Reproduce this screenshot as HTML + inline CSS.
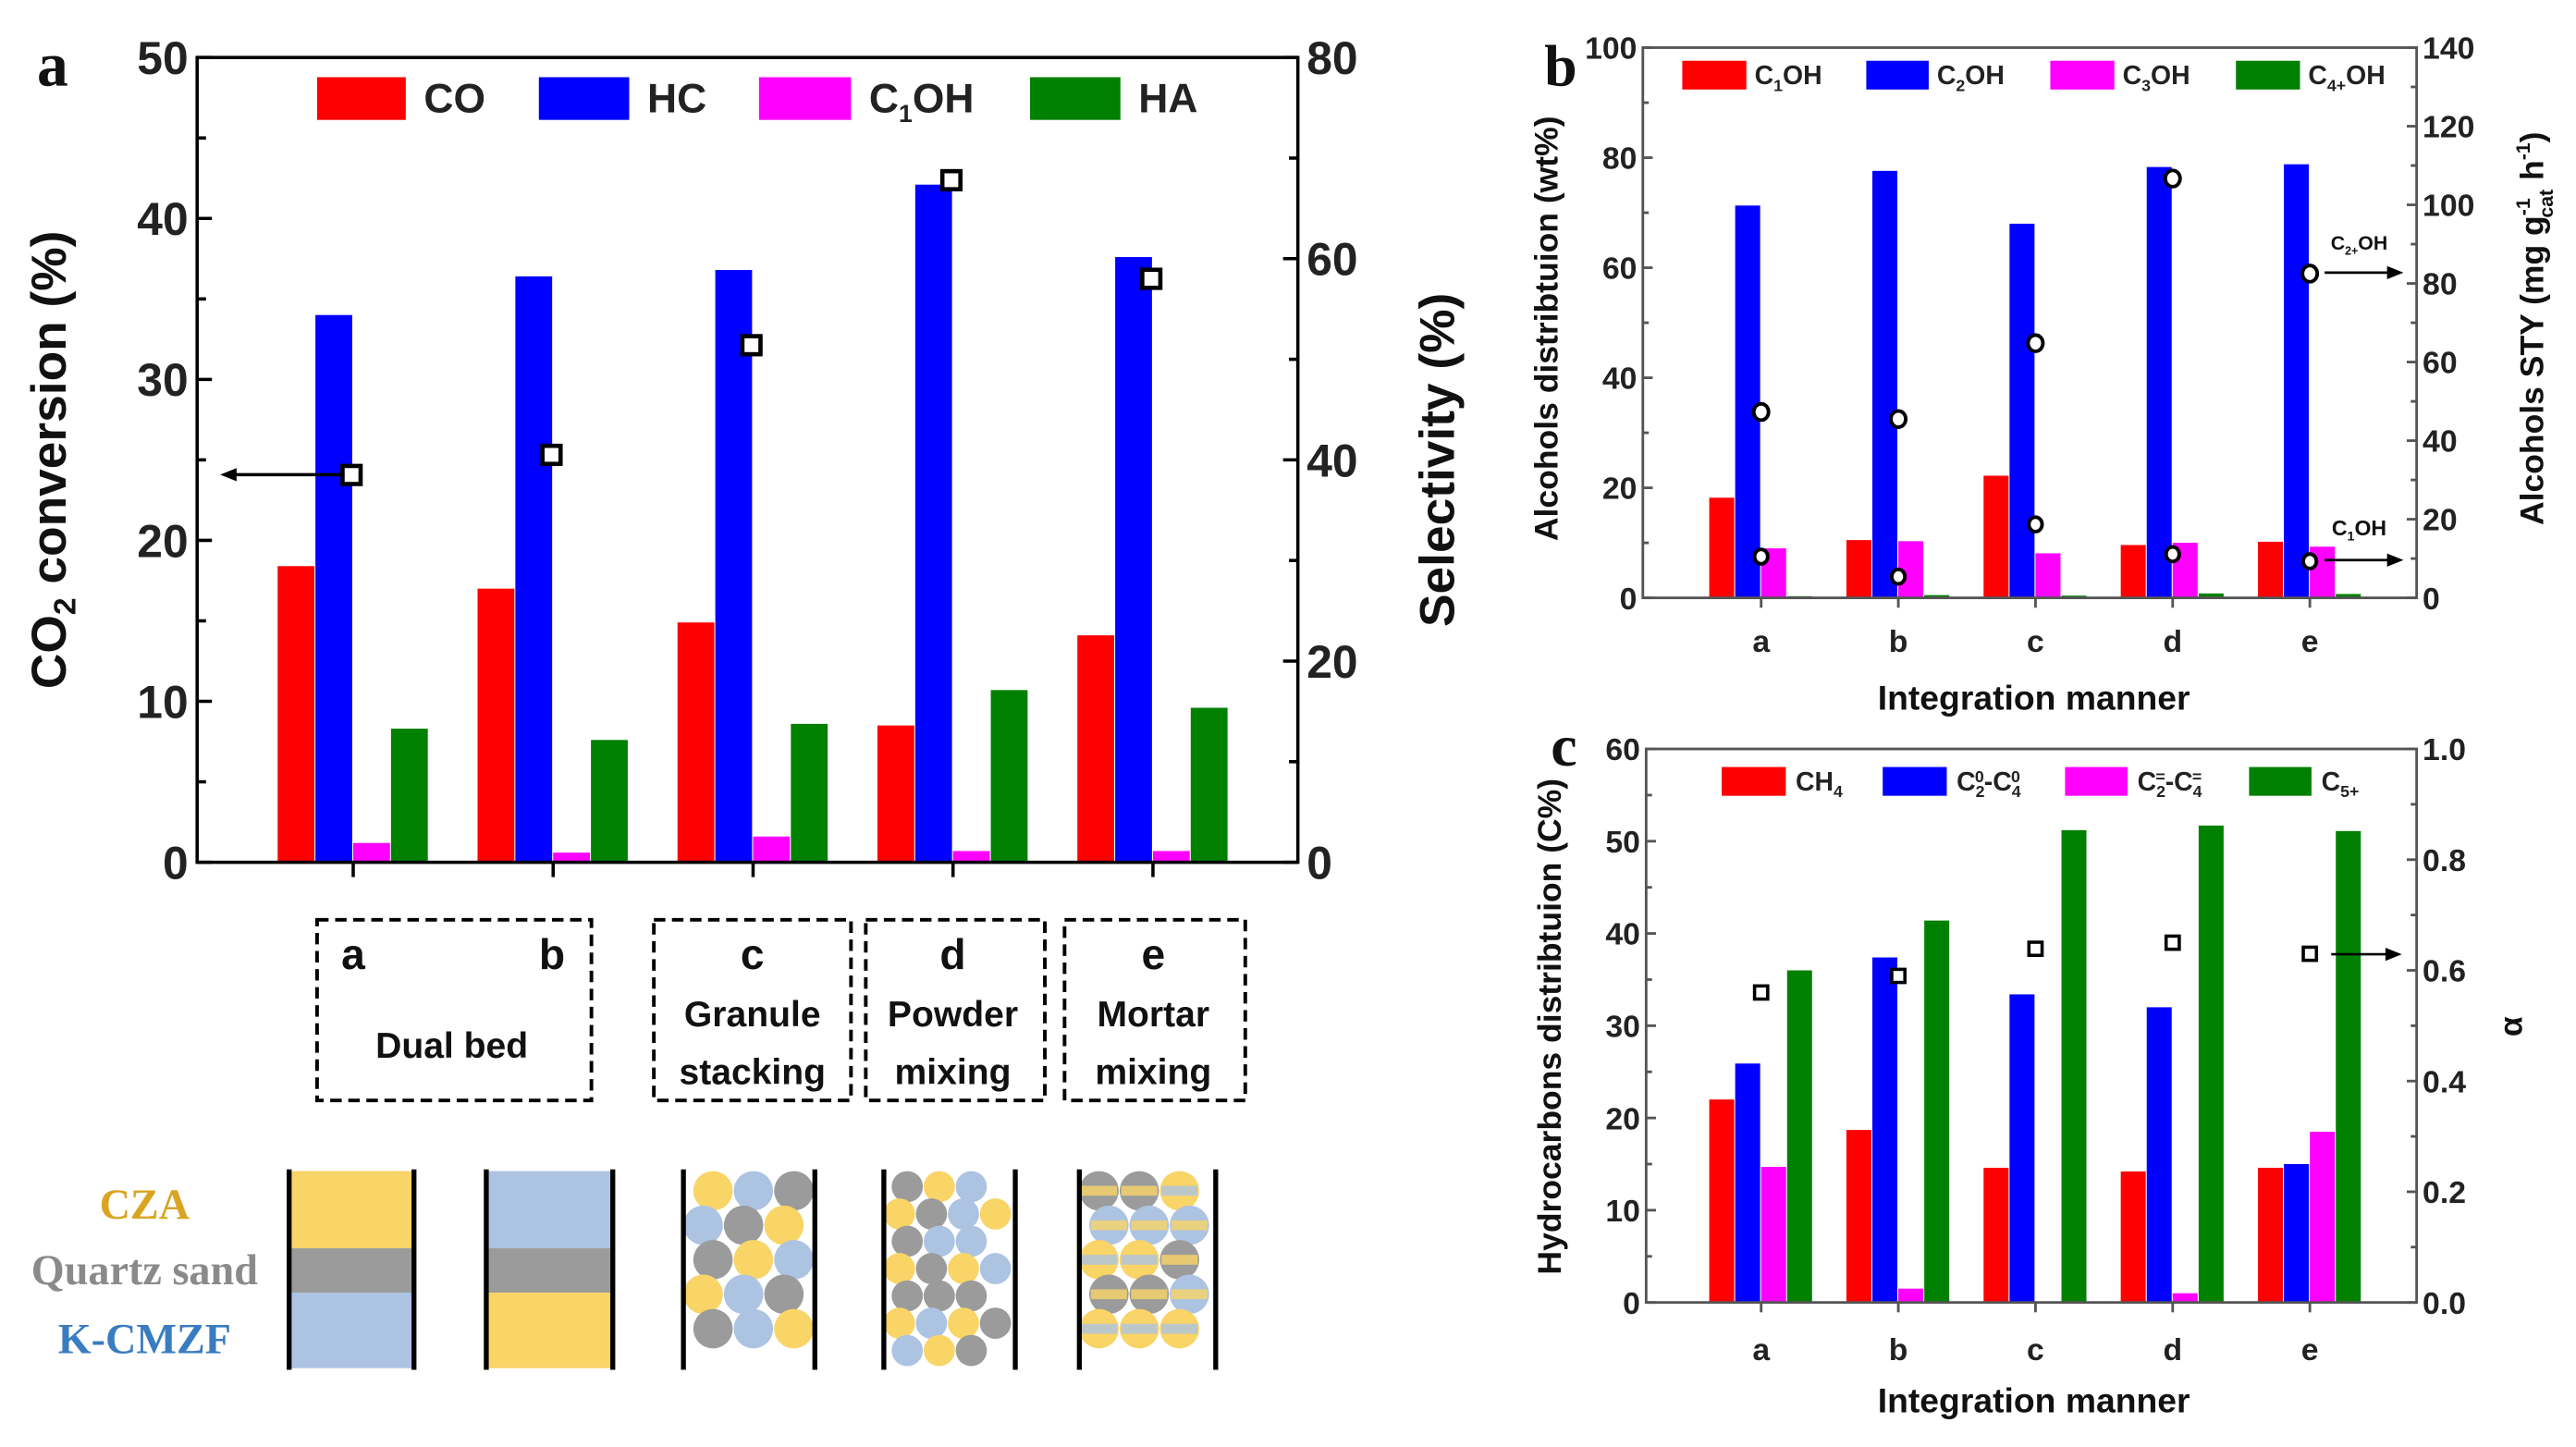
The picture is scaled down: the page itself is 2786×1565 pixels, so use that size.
<!DOCTYPE html>
<html><head><meta charset="utf-8"><style>
html,body{margin:0;padding:0;background:#fff;}
svg{display:block;}
text{font-family:"Liberation Sans",sans-serif;}
.n{font-family:"Liberation Sans Narrow","Liberation Sans",sans-serif;font-weight:bold;}
.t{font-weight:bold;}
.s{font-family:"Liberation Serif",serif;font-weight:bold;}
</style></head><body>
<svg id="fig" width="2786" height="1565" viewBox="0 0 1568 881" preserveAspectRatio="none" xmlns="http://www.w3.org/2000/svg">
<g id="pa"></g>
<g id="pb"></g>
<g id="pc"></g>
<g id="ill"></g>
</svg>
<script>
// ---- data ----
const catsA = ['a','b','c','d','e'];
const aCO = [18.4,17.0,14.9,8.5,14.1];
const aHC = [34.0,36.4,36.8,42.1,37.6];
const aC1OH = [1.2,0.6,1.6,0.7,0.7];
const aHA = [8.3,7.6,8.6,10.7,9.6];
const aConv = [38.5,40.5,51.4,67.8,58.0];
const aLeftTicks = [0,10,20,30,40,50];
const aRightTicks = [0,20,40,60,80];

const bC1 = [18.2,10.5,22.2,9.6,10.2];
const bC2 = [71.3,77.6,68.0,78.3,78.8];
const bC3 = [9.0,10.3,8.1,10.0,9.3];
const bC4 = [0.3,0.5,0.4,0.8,0.7];
const bSTYc2 = [47.3,45.5,64.8,106.7,82.5];
const bSTYc1 = [10.5,5.4,18.7,11.1,9.3];
const bLeftTicks = [0,20,40,60,80,100];
const bRightTicks = [0,20,40,60,80,100,120,140];

const cCH4 = [22.0,18.7,14.6,14.2,14.6];
const cPar = [25.9,37.4,33.4,32.0,15.0];
const cOle = [14.7,1.5,0,1.0,18.5];
const cC5 = [36.0,41.4,51.2,51.7,51.1];
const cAlpha = [0.56,0.59,0.639,0.65,0.63];
const cLeftTicks = [0,10,20,30,40,50,60];
const cRightTicks = ['0.0','0.2','0.4','0.6','0.8','1.0'];

const NS='http://www.w3.org/2000/svg';
function mk(parent,tag,attrs,txt){const e=document.createElementNS(NS,tag);for(const k in attrs)e.setAttribute(k,attrs[k]);if(txt!==undefined)e.textContent=txt;parent.appendChild(e);return e;}
const RED='#ff0000',BLUE='#0000ff',MAG='#ff00ff',GRN='#008000';

function panel(g,o){
  const L=o.L,R=o.R,T=o.T,B=o.B;
  const yl=v=>B-(v-o.lmin)/(o.lmax-o.lmin)*(B-T);
  const yr=v=>B-(v-o.rmin)/(o.rmax-o.rmin)*(B-T);
  const xc=i=>o.x0+i*o.dx;
  // bars
  o.series.forEach((s,si)=>{
    s.vals.forEach((v,i)=>{
      const x=xc(i)-2*o.bw+si*o.bw;
      const r=mk(g,'rect',{x:x,y:yl(v),width:o.bw-0.6,height:B-yl(v),fill:s.color});
      
      
    });
  });
  // frame
  const f=mk(g,'rect',{x:L,y:T,width:R-L,height:B-T,fill:'none',stroke:o.axc,'stroke-width':o.aw});
  
  // left ticks
  o.lticks.forEach(v=>{
    const y=yl(+v);
    mk(g,'line',{x1:L,x2:L+o.tl,y1:y,y2:y,stroke:o.axc,'stroke-width':o.aw});
    const t=mk(g,'text',{x:L-o.tl*0.6,y:y+o.fs*0.36,'text-anchor':'end','font-size':o.fs,class:'n',fill:'#222'},v);
    
  });
  for(let i=0;i<o.lticks.length-1;i++){const y=(yl(+o.lticks[i])+yl(+o.lticks[i+1]))/2;mk(g,'line',{x1:L,x2:L+o.tl*0.6,y1:y,y2:y,stroke:o.axc,'stroke-width':o.aw});}
  o.rticks.forEach(v=>{
    const y=yr(+v);
    mk(g,'line',{x1:R,x2:R-o.tl,y1:y,y2:y,stroke:o.axc,'stroke-width':o.aw});
    const t=mk(g,'text',{x:R+o.tl*0.6,y:y+o.fs*0.36,'text-anchor':'start','font-size':o.fs,class:'n',fill:'#222'},v);
    
  });
  for(let i=0;i<o.rticks.length-1;i++){const y=(yr(+o.rticks[i])+yr(+o.rticks[i+1]))/2;mk(g,'line',{x1:R,x2:R-o.tl*0.6,y1:y,y2:y,stroke:o.axc,'stroke-width':o.aw});}
  o.cats.forEach((c,i)=>{
    mk(g,'line',{x1:xc(i),x2:xc(i),y1:B,y2:B+o.tl,stroke:o.axc,'stroke-width':o.aw});
    if(o.xlab){const t=mk(g,'text',{x:xc(i),y:B+o.xlab,'text-anchor':'middle','font-size':o.fs,class:'n',fill:'#222'},c);
      }
  });
  // markers
  o.markers.forEach(m=>{
    m.vals.forEach((v,i)=>{
      const y=yr(v),x=xc(i)+(m.dx||0);
      let e;
      if(m.shape==='sq') e=mk(g,'rect',{x:x-m.sz/2,y:y-m.sz/2,width:m.sz,height:m.sz,fill:'#fff',stroke:'#000','stroke-width':m.sw});
      else e=mk(g,'ellipse',{cx:x,cy:y,rx:m.sz/2,ry:m.sz/2*1.1,fill:'#fff',stroke:'#000','stroke-width':m.sw});
      
      
    });
  });
  // legend
  o.legend.forEach(l=>{
    const r=mk(g,'rect',{x:l.x,y:o.ly,width:l.w,height:o.lh,fill:l.color});
    
    const t=mk(g,'text',{x:l.x+l.w+o.lgap,y:o.ly+o.lh*0.82,'font-size':o.lfs,class:'n',fill:'#222'});
    t.innerHTML=l.html;
    
  });
  return {yl,yr,xc};
}
function arrow(g,x1,x2,y,w,name){
  const dir=x2>x1?1:-1;
  const l=mk(g,'line',{x1:x1,x2:x2-dir*8,y1:y,y2:y,stroke:'#000','stroke-width':w});
  
  mk(g,'polygon',{points:`${x2},${y} ${x2-dir*10},${y-4} ${x2-dir*10},${y+4}`,fill:'#000'});
}
function label(g,x,y,txt,size,cls,name,rot,html){
  const t=mk(g,'text',{x:x,y:y,'font-size':size,class:cls,'text-anchor':'middle',fill:'#111',transform:rot?`rotate(${rot} ${x} ${y})`:''});
  if(html)t.innerHTML=html;else t.textContent=txt;
  return t;
}

// ---- panel a ----
const ga=document.getElementById('pa');
panel(ga,{L:120,R:790,T:35,B:525,lmin:0,lmax:50,rmin:0,rmax:80,x0:215,dx:121.7,bw:23,cats:catsA,axc:'#000',aw:2,tl:9,fs:28,xlab:0,
  lticks:aLeftTicks,rticks:aRightTicks,
  series:[{key:'co',vals:aCO,color:RED},{key:'hc',vals:aHC,color:BLUE},{key:'c1oh',vals:aC1OH,color:MAG},{key:'ha',vals:aHA,color:GRN}],
  markers:[{key:'co2-conversion',vals:aConv,shape:'sq',sz:11,sw:2.6,dx:-1}],
  ly:47,lh:26,lfs:25,lgap:11,
  legend:[{key:'co',x:193,w:54,color:RED,html:'CO'},{key:'hc',x:328,w:55,color:BLUE,html:'HC'},
          {key:'c1oh',x:462,w:56,color:MAG,html:'C<tspan font-size="15" dy="6">1</tspan><tspan dy="-6">OH</tspan>'},{key:'ha',x:627,w:55,color:GRN,html:'HA'}]});
arrow(ga,208,134,289,2,'arrow-to-left-axis');
label(ga,40,280,'',30,'t','y-axis-title-left',-90,'CO<tspan font-size="19" dy="6">2</tspan><tspan dy="-6"> conversion (%)</tspan>');
label(ga,885,280,'Selectivity (%)',30,'t','y-axis-title-right',-90);
label(ga,32,52,'a',38,'s','panel-letter-a');
// boxes
const boxes=[[193,360],[398,518],[527,636],[648,758]];
boxes.forEach((b,i)=>{const r=mk(ga,'rect',{x:b[0],y:560,width:b[1]-b[0],height:110,fill:'none',stroke:'#000','stroke-width':2.2,'stroke-dasharray':'7,4'});
  });
const boxTexts=[[215,590,'a'],[336,590,'b'],[275,644,'Dual bed'],[458,590,'c'],[458,625,'Granule'],[458,660,'stacking'],
  [580,590,'d'],[580,625,'Powder'],[580,660,'mixing'],[702,590,'e'],[702,625,'Mortar'],[702,660,'mixing']];
boxTexts.forEach(t=>label(ga,t[0],t[1],t[2],t[2].length===1?26:22,'t','box-label'));

// ---- illustrations ----
const gi=document.getElementById('ill');
const Y='#f9d467',LB='#adc3e2',GR='#9b9b9b';
label(gi,88,742,'CZA',26,'s','legend-cza').setAttribute('fill','#d9a520');
label(gi,88,782,'Quartz sand',26,'s','legend-quartz-sand').setAttribute('fill','#8a8a8a');
label(gi,88,824,'K-CMZF',26,'s','legend-k-cmzf').setAttribute('fill','#3a7cc0');
function col(x,w){mk(gi,'line',{x1:x,x2:x,y1:712,y2:834,stroke:'#000','stroke-width':3});mk(gi,'line',{x1:x+w,x2:x+w,y1:712,y2:834,stroke:'#000','stroke-width':3});}
mk(gi,'rect',{x:176,y:713,width:76,height:47,fill:Y});mk(gi,'rect',{x:176,y:760,width:76,height:27,fill:GR});mk(gi,'rect',{x:176,y:787,width:76,height:46,fill:LB});col(176,76);
mk(gi,'rect',{x:296,y:713,width:77,height:47,fill:LB});mk(gi,'rect',{x:296,y:760,width:77,height:27,fill:GR});mk(gi,'rect',{x:296,y:787,width:77,height:46,fill:Y});col(296,77);
const pal=[Y,LB,GR];
function circles(x0,w,r,pat){let k=0;for(let y=713+r;y<834-r+2;y+=r*1.75){const off=(Math.round((y-713)/(r*1.75))%2)*r;for(let x=x0+r+off*0.5;x<x0+w-r+2;x+=r*2.05){mk(gi,'circle',{cx:x,cy:y,r:r,fill:pal[pat[k%pat.length]]});k++;}}}
circles(416,80,12,[0,1,2,1,2,0,2,0,1,0,1,2,2,1,0]);col(416,80);
circles(538,80,9.5,[2,0,1,0,2,1,0,2,1,1,0,2,0,1,2,2]);col(538,80);
(function(){const x0=657,w=83,r=12;let k=0;for(let y=725;y<830;y+=21){for(let x=x0+r+((k%2)?6:0);x<x0+w-r+2;x+=24.5){const c=(k+x)%3<1?GR:((k%2)?LB:Y);mk(gi,'circle',{cx:x,cy:y,r:r,fill:c});mk(gi,'rect',{x:x-r+1,y:y-3,width:2*r-2,height:6,fill:(c===Y?LB:Y),opacity:0.8});}k++;}})();col(657,83);

// ---- panel b ----
const gb=document.getElementById('pb');
panel(gb,{L:1000,R:1471,T:29,B:364,lmin:0,lmax:100,rmin:0,rmax:140,x0:1072,dx:83.5,bw:15.8,cats:catsA,axc:'#555',aw:1.6,tl:6,fs:19,xlab:33,
  lticks:bLeftTicks,rticks:bRightTicks,
  series:[{key:'c1oh',vals:bC1,color:RED},{key:'c2oh',vals:bC2,color:BLUE},{key:'c3oh',vals:bC3,color:MAG},{key:'c4oh',vals:bC4,color:GRN}],
  markers:[{key:'sty-c2plus',vals:bSTYc2,shape:'c',sz:9,sw:2.2},{key:'sty-c1',vals:bSTYc1,shape:'c',sz:8,sw:2.2}],
  ly:37,lh:17.5,lfs:16,lgap:5,
  legend:[{key:'c1oh',x:1024,w:39,color:RED,html:'C<tspan font-size="10" dy="4">1</tspan><tspan dy="-4">OH</tspan>'},
          {key:'c2oh',x:1136,w:38,color:BLUE,html:'C<tspan font-size="10" dy="4">2</tspan><tspan dy="-4">OH</tspan>'},
          {key:'c3oh',x:1248,w:39,color:MAG,html:'C<tspan font-size="10" dy="4">3</tspan><tspan dy="-4">OH</tspan>'},
          {key:'c4oh',x:1361,w:39,color:GRN,html:'C<tspan font-size="10" dy="4">4+</tspan><tspan dy="-4">OH</tspan>'}]});
arrow(gb,1415,1463,166,1.5,'arrow-c2plus-sty');
arrow(gb,1415,1463,341,1.5,'arrow-c1-sty');
label(gb,1436,152,'',12,'n','annotation-c2plus-oh',0,'C<tspan font-size="7" dy="3">2+</tspan><tspan dy="-3">OH</tspan>');
label(gb,1436,326,'',13,'n','annotation-c1-oh',0,'C<tspan font-size="8" dy="3">1</tspan><tspan dy="-3">OH</tspan>');
label(gb,1238,432,'Integration manner',21,'n','x-axis-title-b');
label(gb,948,200,'Alcohols distribtuion (wt%)',20,'t','y-axis-title-left-b',-90);
label(gb,1548,200,'',20,'t','y-axis-title-right-b',-90,'Alcohols STY (mg g<tspan font-size="12" dy="-8">-1</tspan><tspan font-size="12" dy="14" dx="-12">cat</tspan><tspan dy="-6"> h</tspan><tspan font-size="12" dy="-8">-1</tspan><tspan dy="8">)</tspan>');
label(gb,950,52,'b',36,'s','panel-letter-b');

// ---- panel c ----
const gc=document.getElementById('pc');
panel(gc,{L:1002,R:1471,T:456,B:793,lmin:0,lmax:60,rmin:0,rmax:1,x0:1072,dx:83.5,bw:15.8,cats:catsA,axc:'#555',aw:1.6,tl:6,fs:19,xlab:35,
  lticks:cLeftTicks,rticks:cRightTicks,
  series:[{key:'ch4',vals:cCH4,color:RED},{key:'c2-c4-paraffin',vals:cPar,color:BLUE},{key:'c2-c4-olefin',vals:cOle,color:MAG},{key:'c5plus',vals:cC5,color:GRN}],
  markers:[{key:'alpha',vals:cAlpha,shape:'sq',sz:8,sw:2}],
  ly:467,lh:17.5,lfs:16,lgap:6,
  legend:[{key:'ch4',x:1048,w:39,color:RED,html:'CH<tspan font-size="10" dy="4">4</tspan>'},
          {key:'c2-c4-paraffin',x:1146,w:39,color:BLUE,html:'C<tspan font-size="10" dy="4">2</tspan><tspan font-size="10" dy="-9" dx="-6">0</tspan><tspan dy="5">-C</tspan><tspan font-size="10" dy="4">4</tspan><tspan font-size="10" dy="-9" dx="-6">0</tspan>'},
          {key:'c2-c4-olefin',x:1257,w:38,color:MAG,html:'C<tspan font-size="10" dy="4">2</tspan><tspan font-size="10" dy="-9" dx="-6">=</tspan><tspan dy="5">-C</tspan><tspan font-size="10" dy="4">4</tspan><tspan font-size="10" dy="-9" dx="-6">=</tspan>'},
          {key:'c5plus',x:1369,w:38,color:GRN,html:'C<tspan font-size="10" dy="4">5+</tspan>'}]});
arrow(gc,1419,1462,581,1.5,'arrow-alpha');
label(gc,1238,860,'Integration manner',21,'n','x-axis-title-c');
label(gc,950,625,'Hydrocarbons distribtuion (C%)',20,'t','y-axis-title-left-c',-90);
label(gc,1535,625,'α',20,'t','y-axis-title-right-c',-90);
label(gc,952,466,'c',36,'s','panel-letter-c');
</script>
</body></html>
